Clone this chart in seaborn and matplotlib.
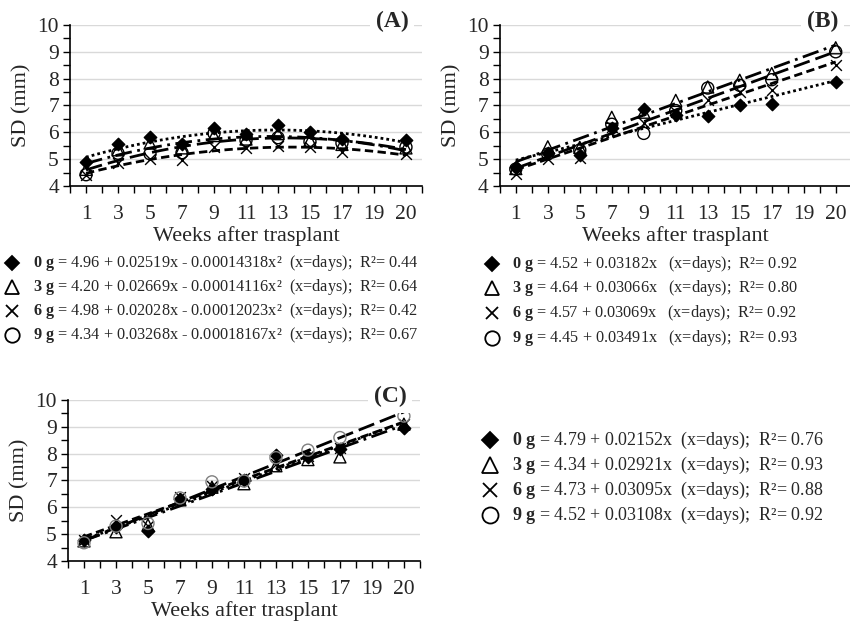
import matplotlib.pyplot as plt
import matplotlib.ticker as mticker
from matplotlib.lines import Line2D
import seaborn as sns

# x categories (Excel-style, evenly spaced) and the weeks that carry data
weeks = ["1", "3", "5", "7", "9", "11", "13", "15", "17", "19", "20"]
data_weeks = ["1", "3", "5", "7", "9", "11", "13", "15", "17", "20"]
groups = ["0 g", "3 g", "6 g", "9 g"]

# panel (A) SD (mm), quadratic trend
a_0g = [4.90, 5.56, 5.81, 5.57, 6.15, 5.95, 6.27, 6.00, 5.75, 5.73]
a_3g = [4.62, 5.35, 5.60, 5.42, 5.88, 5.75, 5.95, 5.70, 5.55, 5.42]
a_6g = [4.42, 4.85, 5.00, 4.97, 5.47, 5.40, 5.50, 5.45, 5.25, 5.20]
a_9g = [4.42, 5.22, 5.20, 5.24, 5.96, 5.70, 5.80, 5.65, 5.60, 5.45]

# panel (B), linear trend
b_0g = [4.69, 5.23, 5.16, 6.15, 6.88, 6.65, 6.59, 7.00, 7.04, 7.88]
b_3g = [4.65, 5.46, 5.44, 6.56, 6.75, 7.19, 7.69, 7.94, 8.19, 9.15]
b_6g = [4.44, 5.00, 5.04, 6.19, 6.35, 6.75, 7.19, 7.50, 7.56, 8.50]
b_9g = [4.63, 5.19, 5.34, 6.30, 5.96, 6.81, 7.65, 7.75, 7.96, 9.00]

# panel (C), linear trend
c_0g = [4.78, 5.28, 5.12, 6.32, 6.70, 7.00, 7.94, 7.86, 8.16, 8.96]
c_3g = [4.75, 5.09, 5.34, 6.28, 6.75, 6.88, 7.55, 7.78, 7.88, 9.10]
c_6g = [4.80, 5.52, 5.30, 6.38, 6.80, 7.08, 7.62, 7.90, 8.20, 9.12]
c_9g = [4.68, 5.30, 5.40, 6.35, 6.95, 6.98, 7.85, 8.13, 8.60, 9.40]

a_eqs = ["= 4.96 + 0.02519x - 0.00014318x²  (x=days);  R²= 0.44",
         "= 4.20 + 0.02669x - 0.00014116x²  (x=days);  R²= 0.64",
         "= 4.98 + 0.02028x - 0.00012023x²  (x=days);  R²= 0.42",
         "= 4.34 + 0.03268x - 0.00018167x²  (x=days);  R²= 0.67"]
b_eqs = ["= 4.52 + 0.03182x   (x=days);  R²= 0.92",
         "= 4.64 + 0.03066x   (x=days);  R²= 0.80",
         "= 4.57 + 0.03069x   (x=days);  R²= 0.92",
         "= 4.45 + 0.03491x   (x=days);  R²= 0.93"]
c_eqs = ["= 4.79 + 0.02152x  (x=days);  R²= 0.76",
         "= 4.34 + 0.02921x  (x=days);  R²= 0.93",
         "= 4.73 + 0.03095x  (x=days);  R²= 0.88",
         "= 4.52 + 0.03108x  (x=days);  R²= 0.92"]

sns.set_style("ticks")
plt.rcParams['font.family'] = ['Liberation Serif', 'DejaVu Serif']
plt.rcParams['mathtext.fontset'] = 'custom'
plt.rcParams['mathtext.rm'] = 'Liberation Serif'
plt.rcParams['mathtext.bf'] = 'Liberation Serif:bold'

styles = {
    "0 g": dict(marker="D", s=40, fc="black", ec="black", dashes=(1, 1.1)),
    "3 g": dict(marker="^", s=75, fc="none", ec="black", dashes=(6, 2, 1, 2)),
    "6 g": dict(marker="x", s=60, fc="black", ec="black", dashes=(3, 1.6)),
    "9 g": dict(marker="o", s=75, fc="none", ec="black", dashes=(6, 2.2)),
}

fig = plt.figure(figsize=(8.5, 6.21), dpi=100)
pos = [weeks.index(w) for w in data_weeks]


def panel(rect, series, order, tag, circle_ec="black"):
    ax = fig.add_axes(rect)
    for g, vals in zip(groups, series):
        st = styles[g]
        ec = circle_ec if g == "9 g" else st["ec"]
        sns.regplot(x=pos, y=vals, order=order, ci=None, ax=ax, color="black",
                    marker=st["marker"],
                    scatter_kws=dict(s=st["s"], facecolors=st["fc"], edgecolors=ec,
                                     linewidths=1.0, alpha=1, zorder=3),
                    line_kws=dict(lw=2, dashes=st["dashes"], zorder=2))
    ax.set_xlim(-0.5, 10.5)
    ax.set_ylim(4, 10)
    ax.set_xticks(range(len(weeks)))
    ax.set_xticklabels(weeks)
    ax.xaxis.set_minor_locator(mticker.MultipleLocator(0.5))
    ax.yaxis.set_major_locator(mticker.MultipleLocator(1))
    ax.yaxis.set_minor_locator(mticker.MultipleLocator(0.5))
    ax.tick_params(which="both", direction="out", length=5, width=1, color="black")
    ax.tick_params(labelsize=15.5)
    ax.tick_params(axis="x", pad=9)
    ax.tick_params(axis="y", pad=3)
    ax.yaxis.grid(True, which="major", color="#d9d9d9", lw=1)
    ax.set_axisbelow(True)
    sns.despine(ax=ax)
    for s in ["left", "bottom"]:
        ax.spines[s].set_color("black")
        ax.spines[s].set_linewidth(1.2)
    ax.set_xlabel("Weeks after trasplant", fontsize=16, labelpad=1)
    ax.set_ylabel("SD (mm)", fontsize=16, labelpad=4)
    ax.text(0.962, 1.02, tag, transform=ax.transAxes, ha="right", va="center",
            fontsize=17, fontweight="bold", zorder=5,
            bbox=dict(fc="white", ec="none", pad=4))
    return ax


panel([0.0824, 0.7005, 0.414, 0.2593], [a_0g, a_3g, a_6g, a_9g], 2, "(A)")
panel([0.588, 0.7005, 0.414, 0.2593], [b_0g, b_3g, b_6g, b_9g], 1, "(B)")
panel([0.080, 0.0966, 0.414, 0.2593], [c_0g, c_3g, c_6g, c_9g], 1, "(C)",
      circle_ec="#808080")


def legend_block(mx, tx, rows_px, eqs, size=11.7):
    scale = size / 11.7
    for g, eq, ypx in zip(groups, eqs, rows_px):
        st = styles[g]
        y = 1 - ypx / 621
        fig.add_artist(Line2D([mx / 850], [y], transform=fig.transFigure,
                              marker=st["marker"], ms=st["s"] ** 0.5 * 1.2 * scale,
                              mfc=st["fc"], mec="black", mew=1.3, ls="none"))
        num, unit = g.split()
        label = r"$\mathbf{" + num + "}$ $\\mathbf{" + unit + "}$ " + eq
        fig.text(tx / 850, y, label, fontsize=size, va="center", ha="left")


legend_block(12, 33, [263, 287, 311, 335], a_eqs)
legend_block(492, 512, [264, 288, 313, 338], b_eqs)
legend_block(490, 512, [440, 465, 490, 515], c_eqs, size=13)

fig.savefig("out.png", dpi=100)
